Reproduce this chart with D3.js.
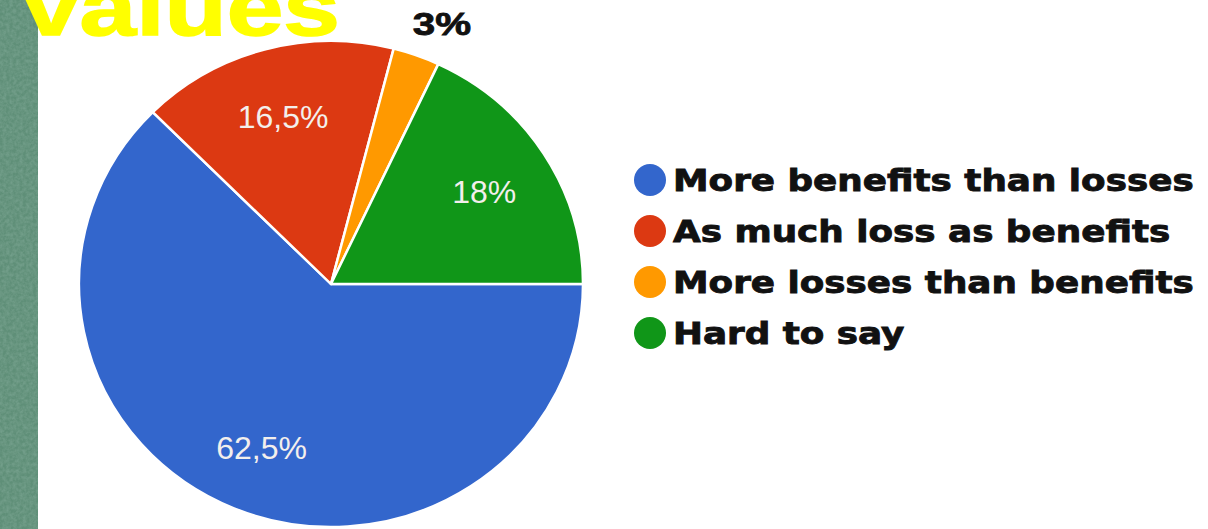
<!DOCTYPE html>
<html><head><meta charset="utf-8">
<script src="https://cdn.jsdelivr.net/npm/d3@7"></script>
<style>html,body{margin:0;padding:0;background:#fff;overflow:hidden}</style>
</head><body>
<svg id="c" width="1208" height="529"></svg>
<script>
const categories = ["More benefits than losses","As much loss as benefits","More losses than benefits","Hard to say"];
const values = [62.5, 16.5, 3, 18];
const valueLabels = ["62,5%","16,5%","3%","18%"];
const colors = ["#3366cc","#dc3912","#ff9900","#109618"];
const titleText = "values";

const W = 1208, H = 529;
const svg = d3.select("#c");

// textured left strip
const defs = svg.append("defs");
const f = defs.append("filter").attr("id","marble").attr("x",0).attr("y",0).attr("width","100%").attr("height","100%");
f.append("feTurbulence").attr("type","fractalNoise").attr("baseFrequency","0.3").attr("numOctaves",3).attr("seed",4).attr("result","n");
f.append("feColorMatrix").attr("in","n").attr("type","matrix")
  .attr("values","0 0 0 0 0.30  0 0 0 0 0.50  0 0 0 0 0.41  1.2 0 0 0 -0.35").attr("result","c");
f.append("feComposite").attr("in","c").attr("in2","SourceGraphic").attr("operator","atop");
svg.append("rect").attr("x",0).attr("y",0).attr("width",38).attr("height",H).attr("fill","#5f8f78");
svg.append("rect").attr("x",0).attr("y",0).attr("width",38).attr("height",H).attr("fill","#5f8f78").attr("filter","url(#marble)").attr("opacity",0.5);

// pie
const cx = 331, cy = 284, rx = 252, ry = 243;
const pie = d3.pie().sort(null).value(d => d).startAngle(Math.PI/2).endAngle(Math.PI/2 + 2*Math.PI);
const arcs = pie(values);
const arc = d3.arc().innerRadius(0).outerRadius(rx);
const g = svg.append("g").attr("transform", `translate(${cx},${cy}) scale(1,${ry/rx})`);
g.selectAll("path").data(arcs).join("path")
  .attr("d", arc)
  .attr("fill", (d,i) => colors[i])
  .attr("stroke", "#fff").attr("stroke-width", 2.5).attr("stroke-linejoin","round");

// slice labels
const inner = d3.arc().innerRadius(rx*0.72).outerRadius(rx*0.72);
const outer = d3.arc().innerRadius(rx*1.147).outerRadius(rx*1.147);
const lab = svg.append("g").attr("transform", `translate(${cx},${cy})`);
arcs.forEach((d,i) => {
  const small = values[i] < 5;
  const c = (small ? outer : inner).centroid(d);
  const x = c[0] + (small ? 13 : 0), y = c[1]*ry/rx + 2;
  const t = lab.append("text")
    .attr("dy","0.35em")
    .attr("text-anchor","middle")
    .attr("font-family","Liberation Sans, Arial, sans-serif")
    .attr("font-size", small ? 31 : 32)
    .attr("font-weight", small ? "bold" : "normal")
    .attr("fill", small ? "#111" : "#f3efec")
    .attr("transform", small ? `translate(${x},${y}) scale(1.3,1)` : `translate(${x},${y})`)
    .text(valueLabels[i]);
  if (small) t.attr("stroke","#111").attr("stroke-width",0.8);
});

// legend
const ly = d3.scalePoint().domain(categories).range([180, 333]);
const leg = svg.append("g");
let factor = null;
categories.forEach((c,i) => {
  const y = ly(c);
  leg.append("circle").attr("cx",650).attr("cy",y).attr("r",16).attr("fill",colors[i]);
  const t = leg.append("text")
    .attr("font-family","DejaVu Sans, sans-serif").attr("font-weight","bold")
    .attr("font-size",31).attr("fill","#111").attr("stroke","#111").attr("stroke-width",0.9)
    .text(c);
  const w = t.node().getComputedTextLength();
  if (factor === null) factor = 521 / w;
  t.attr("transform", `translate(673,${y+11}) scale(${factor},1)`);
});

// title fragment
const tt = svg.append("text")
  .attr("font-family","Liberation Sans, Arial, sans-serif").attr("font-weight","bold")
  .attr("font-size",80).attr("fill","#ffff00").attr("stroke","#ffff00").attr("stroke-width",1.5).text(titleText);
const tw = tt.node().getComputedTextLength();
tt.attr("transform", `translate(23,35) scale(${317/tw},1)`);
</script>
</body></html>
